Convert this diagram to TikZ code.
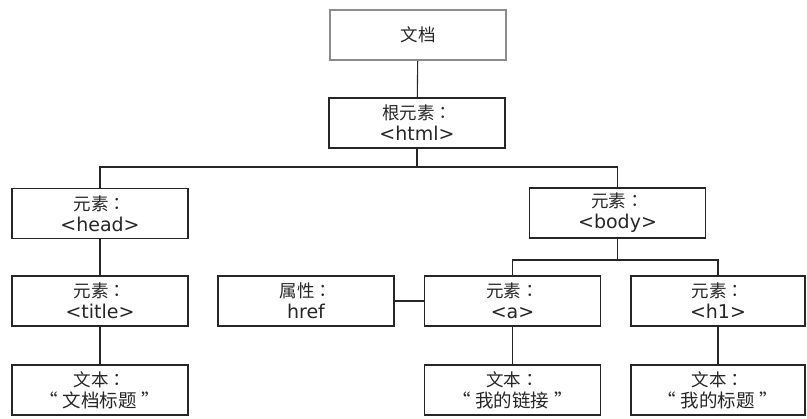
\documentclass[tikz,border=0pt]{standalone}
\usepackage{fontspec}
\setmainfont{DejaVu Sans}
\newfontfamily\cjk{Noto Sans CJK SC}
\newfontfamily\cjktc{Noto Sans CJK TC}
\newcommand{\lat}[1]{{\fontspec{DejaVu Sans}\fontsize{19}{21}\selectfont#1}}
\newcommand{\fcolon}{{\cjktc ：}}
\newcommand{\quoted}[1]{{\fontsize{18.5}{21}\selectfont “\hspace{5pt}#1\hspace{5pt}”}}
\begin{document}
\begin{tikzpicture}[x=1pt,y=-1pt,
  box/.style={draw=black!85,line width=1.1pt,minimum width=176pt,minimum height=50pt,
    inner sep=0pt,align=center,font=\cjk\fontsize{17.5}{21}\selectfont,text=black!85},
  docbox/.style={box,draw=black!45,line width=2pt},
  link/.style={draw=black!85,line width=1.1pt}]
\useasboundingbox (0,0) rectangle (807,419);
\node[docbox] (doc) at (418,35) {文档};
\node[box] (root) at (417,123) {根元素\fcolon\\\lat{<html>}};
\node[box] (head) at (100,213.5) {元素\fcolon\\\lat{<head>}};
\node[box] (body) at (617.5,213) {元素\fcolon\\\lat{<body>}};
\node[box] (title) at (100,301) {元素\fcolon\\\lat{<title>}};
\node[box] (attr) at (306,301) {属性\fcolon\\\lat{href}};
\node[box] (a) at (512.5,301) {元素\fcolon\\\lat{<a>}};
\node[box,minimum width=174pt] (h1) at (718,301) {元素\fcolon\\\lat{<h1>}};
\node[box] (t1) at (100,390) {文本\fcolon\\\quoted{文档标题}};
\node[box] (t2) at (512.5,390) {文本\fcolon\\\quoted{我的链接}};
\node[box,minimum width=174pt] (t3) at (718,390) {文本\fcolon\\\quoted{我的标题}};
\coordinate (bus1) at (417,167);
\coordinate (bus2) at (617.5,260);
\draw[link] (doc) -- (root);
\draw[link] (root) -- (bus1) -| (head);
\draw[link] (bus1) -| (body);
\draw[link] (body) -- (bus2) -| (a);
\draw[link] (bus2) -| (h1);
\draw[link] (head) -- (title);
\draw[link] (title) -- (t1);
\draw[link] (attr) -- (a);
\draw[link] (a) -- (t2);
\draw[link] (h1) -- (t3);
\end{tikzpicture}
\end{document}
